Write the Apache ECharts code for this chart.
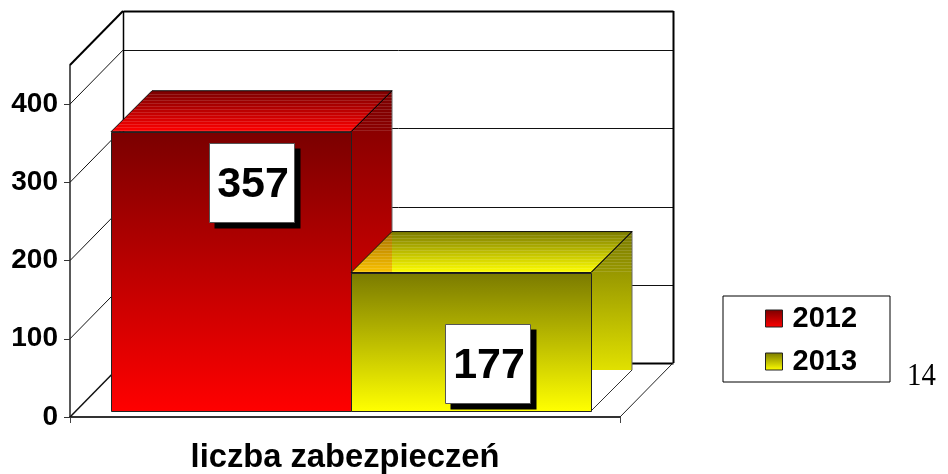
<!DOCTYPE html>
<html>
<head>
<meta charset="utf-8">
<style>html,body{margin:0;padding:0;background:#fff}#c{width:948px;height:474px}</style>
<script src="https://cdn.jsdelivr.net/npm/echarts@6/dist/echarts.min.js"></script>
</head>
<body>
<div id="c"></div>
<script>
const categories = ['liczba zabezpieczeń'];
const seriesNames = ['2012', '2013'];
const values2012 = [357];
const values2013 = [177];
const yTicks = [0, 100, 200, 300, 400];
const yMax = 450;
const pageNumber = '14';
// axis level at which each value box is centred
const labelLevels2012 = [300];
const labelLevels2013 = [69];

const FONT = '"Liberation Sans", Arial, sans-serif';
const WALL_DX = 53, WALL_DY = 54, NEAR = 6, BAR_DEPTH = 41;
const GAP_F = 35 / 550, BAR_F = 240 / 550;
const LABEL_DX = [20, 16];
const PALETTE = [
  {dark: '#7a0000', bright: '#ff0000', overlay: null},
  {dark: '#7a7a00', bright: '#ffff00', overlay: 'rgba(240,90,0,0.36)'}
];
const grad = (x0, y0, x1, y1, a, b) => new echarts.graphic.LinearGradient(x0, y0, x1, y1,
  [{offset: 0, color: a}, {offset: 1, color: b}], true);
const crisp = v => Math.round(v) + 0.5;
const line = (x1, y1, x2, y2, stroke, lineWidth) => ({
  type: 'line', shape: {x1, y1, x2, y2}, style: {stroke: stroke || '#000', lineWidth: lineWidth || 1, fill: null}, silent: true
});
const poly = (points, fill, stroke) => ({
  type: 'polygon', shape: {points}, style: {fill, stroke: stroke || null, lineWidth: stroke ? 1 : 0}, silent: true
});

function renderWalls(params, api) {
  const y0 = api.coord([0, 0])[1], yTop = api.coord([0, yMax])[1];
  const band = api.size([1, 0])[0];
  const x0 = api.coord([0, 0])[0] - band / 2, x1 = x0 + band;
  const dx = WALL_DX, dy = WALL_DY, children = [];
  yTicks.forEach(t => {
    const y = api.coord([0, t])[1];
    if (t > 0) {
      children.push(line(crisp(x0 + dx), crisp(y - dy), crisp(x1 + dx), crisp(y - dy), '#111', 1));
    }
    children.push(line(x0, y, x0 + dx, y - dy, '#111', t === 0 ? 1.5 : 1));
  });
  children.push(line(crisp(x0 + dx), crisp(y0 - dy), crisp(x1 + dx), crisp(y0 - dy), '#000', 2));
  children.push(line(crisp(x0 + dx), crisp(yTop - dy), crisp(x1 + dx), crisp(yTop - dy), '#000', 2));
  children.push(line(crisp(x0 + dx), yTop - dy, crisp(x0 + dx), y0 - dy, '#000', 1.5));
  children.push(line(crisp(x1 + dx), yTop - dy, crisp(x1 + dx), y0 - dy, '#000', 2));
  children.push(line(x0, yTop, x0 + dx, yTop - dy, '#000', 2));
  children.push(line(x1, y0, x1 + dx, y0 - dy, '#222', 1));
  return {type: 'group', children};
}

function renderBar(barIdx, levels) {
  return function (params, api) {
    const cat = api.value(0), val = api.value(1);
    const band = api.size([1, 0])[0];
    const left = api.coord([cat, 0])[0] - band / 2;
    const y0 = api.coord([cat, 0])[1], yv = api.coord([cat, val])[1];
    const fx0 = left + band * (GAP_F + BAR_F * barIdx) + NEAR;
    const fx1 = fx0 + band * BAR_F;
    const yb = y0 - NEAR, yt = yv - NEAR;
    const D = BAR_DEPTH, col = PALETTE[barIdx], children = [];
    // right side (fill stops level with the bar's back foot)
    const sideFill = grad(0, yt - D, 0, yb, col.dark, col.bright);
    children.push(poly([[fx1, yt], [fx1 + D, yt - D], [fx1 + D, yb - D], [fx1, yb - D]], sideFill));
    children.push(line(fx1, yb, fx1 + D, yb - D, '#333', 1));
    children.push(line(fx1 + D, yt - D, fx1 + D, yb - D, '#666', 1));
    // top
    children.push(poly([[fx0, yt], [fx1, yt], [fx1 + D, yt - D], [fx0 + D, yt - D]],
      grad(0, yt - D, 0, yt, col.dark, col.bright)));
    if (col.overlay) {
      children.push(poly([[fx0, yt], [fx0 + D, yt - D], [fx0 + D, yt]], col.overlay));
    }
    // banding on the top
    for (let k = 3; k < D; k += 3) {
      const y = crisp(yt - D + k);
      const xl = fx0 + D - k;
      children.push(line(xl, y, fx1 + D, y, 'rgba(255,255,255,0.13)', 1));
    }
    children.push(poly([[fx0, yt], [fx1, yt], [fx1 + D, yt - D], [fx0 + D, yt - D]], 'rgba(0,0,0,0)', '#111'));
    children.push(line(fx1, yt, fx1 + D, yt - D, '#000', 1));
    // front
    children.push({
      type: 'rect', shape: {x: crisp(fx0), y: crisp(yt), width: Math.round(fx1 - fx0), height: Math.round(yb - yt)},
      style: {fill: grad(0, yt, 0, yb, col.dark, col.bright), stroke: '#222', lineWidth: 1}, silent: true
    });
    // value box
    const bw = 85, bh = 79;
    const cx = (fx0 + fx1) / 2 + LABEL_DX[barIdx];
    const cy = api.coord([cat, levels[0]])[1];
    const bx = crisp(cx - bw / 2), by = crisp(cy - bh / 2);
    children.push({type: 'rect', shape: {x: bx + 5, y: by + 5, width: bw + 1, height: bh + 1}, style: {fill: '#000'}, silent: true});
    children.push({type: 'rect', shape: {x: bx, y: by, width: bw, height: bh}, style: {fill: '#fff', stroke: '#555', lineWidth: 1}, silent: true});
    children.push({
      type: 'text', x: bx + bw / 2 + 1, y: by + bh / 2 + 2,
      style: {text: String(val), fill: '#000', font: 'bold 43px ' + FONT, align: 'center', verticalAlign: 'middle'}, silent: true
    });
    return {type: 'group', children};
  };
}

const legendIcon = c => ({
  type: 'linear', x: 0, y: 0, x2: 0, y2: 1,
  colorStops: [{offset: 0, color: c.dark}, {offset: 1, color: c.bright}]
});

const option = {
  animation: false,
  backgroundColor: '#fff',
  grid: {left: 70, top: 65, width: 550, height: 353},
  xAxis: {
    type: 'category', data: categories,
    axisLine: {lineStyle: {color: '#333', width: 2}},
    axisTick: {show: true, length: 6, lineStyle: {color: '#444', width: 1}},
    axisLabel: {color: '#000', fontFamily: FONT, fontWeight: 'bold', fontSize: 32.7, margin: 24},
    splitLine: {show: false}
  },
  yAxis: {
    type: 'value', min: 0, max: yMax, interval: 100,
    axisLine: {show: true, lineStyle: {color: '#222', width: 1.5}},
    axisTick: {show: true, length: 6, lineStyle: {color: '#333', width: 1}, customValues: yTicks},
    axisLabel: {color: '#000', fontFamily: FONT, fontWeight: 'bold', fontSize: 28, margin: 12, customValues: yTicks},
    splitLine: {show: false}
  },
  legend: {
    data: seriesNames.map((name, i) => ({
      name, icon: 'rect',
      itemStyle: {color: legendIcon(PALETTE[i]), borderColor: '#222', borderWidth: 1}
    })),
    orient: 'vertical', left: 723, top: 296,
    selectedMode: false,
    itemWidth: 17, itemHeight: 17, itemGap: 14,
    padding: [8, 33, 6, 42],
    borderColor: '#000', borderWidth: 1, backgroundColor: '#fff',
    textStyle: {color: '#000', fontFamily: FONT, fontWeight: 'bold', fontSize: 29, lineHeight: 28, padding: [0, 0, 0, 5]}
  },
  graphic: [{
    type: 'text', left: 907, top: 361, scaleX: 0.9,
    style: {text: pageNumber, fill: '#000', font: '32px "Liberation Serif", "Times New Roman", serif'}
  }],
  series: [
    {type: 'custom', name: 'walls', coordinateSystem: 'cartesian2d', z: 1, silent: true,
      renderItem: renderWalls, data: [[0, 0]], encode: {x: 0, y: 1}},
    {type: 'custom', name: seriesNames[0], coordinateSystem: 'cartesian2d', z: 3, silent: true,
      renderItem: renderBar(0, labelLevels2012), data: values2012.map((v, i) => [i, v]), encode: {x: 0, y: 1}},
    {type: 'custom', name: seriesNames[1], coordinateSystem: 'cartesian2d', z: 4, silent: true,
      renderItem: renderBar(1, labelLevels2013), data: values2013.map((v, i) => [i, v]), encode: {x: 0, y: 1}}
  ]
};
const chart = echarts.init(document.getElementById('c'), null, {renderer: 'canvas', width: 948, height: 474});
chart.setOption(option);
</script>
</body>
</html>
